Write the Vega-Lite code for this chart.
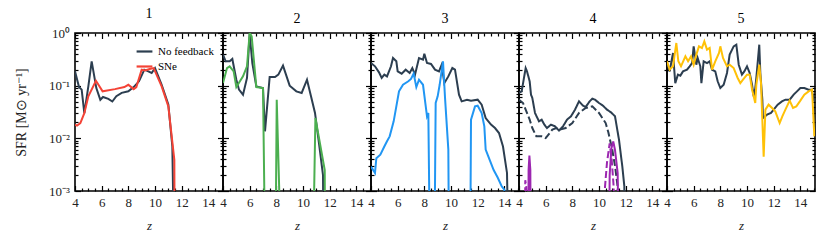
{
"$schema": "https://vega.github.io/schema/vega-lite/v6.json",
"background": "white",
"padding": {"left": 13, "right": 5, "top": 6, "bottom": 5},
"data": {"values": [
{"panel":1,"run":"No feedback","style":"solid","z":4.0,"sfr":0.187},
{"panel":1,"run":"No feedback","style":"solid","z":4.3,"sfr":0.094},
{"panel":1,"run":"No feedback","style":"solid","z":4.5,"sfr":0.084},
{"panel":1,"run":"No feedback","style":"solid","z":4.7,"sfr":0.030},
{"panel":1,"run":"No feedback","style":"solid","z":5.0,"sfr":0.097},
{"panel":1,"run":"No feedback","style":"solid","z":5.25,"sfr":0.29},
{"panel":1,"run":"No feedback","style":"solid","z":5.6,"sfr":0.09},
{"panel":1,"run":"No feedback","style":"solid","z":5.9,"sfr":0.054},
{"panel":1,"run":"No feedback","style":"solid","z":6.1,"sfr":0.061},
{"panel":1,"run":"No feedback","style":"solid","z":6.5,"sfr":0.056},
{"panel":1,"run":"No feedback","style":"solid","z":6.8,"sfr":0.050},
{"panel":1,"run":"No feedback","style":"solid","z":7.1,"sfr":0.063},
{"panel":1,"run":"No feedback","style":"solid","z":7.5,"sfr":0.073},
{"panel":1,"run":"No feedback","style":"solid","z":8.0,"sfr":0.078},
{"panel":1,"run":"No feedback","style":"solid","z":8.4,"sfr":0.094},
{"panel":1,"run":"No feedback","style":"solid","z":8.8,"sfr":0.121},
{"panel":1,"run":"No feedback","style":"solid","z":9.2,"sfr":0.201},
{"panel":1,"run":"No feedback","style":"solid","z":9.5,"sfr":0.187},
{"panel":1,"run":"No feedback","style":"solid","z":9.75,"sfr":0.174},
{"panel":1,"run":"No feedback","style":"solid","z":10.0,"sfr":0.216},
{"panel":1,"run":"No feedback","style":"solid","z":10.5,"sfr":0.104},
{"panel":1,"run":"No feedback","style":"solid","z":11.0,"sfr":0.044},
{"panel":1,"run":"No feedback","style":"solid","z":11.3,"sfr":0.007},
{"panel":1,"run":"No feedback","style":"solid","z":11.55,"sfr":0.000001},
{"panel":1,"run":"SNe","style":"solid","z":4.0,"sfr":0.0182},
{"panel":1,"run":"SNe","style":"solid","z":4.15,"sfr":0.0174},
{"panel":1,"run":"SNe","style":"solid","z":4.4,"sfr":0.0195},
{"panel":1,"run":"SNe","style":"solid","z":4.7,"sfr":0.030},
{"panel":1,"run":"SNe","style":"solid","z":5.0,"sfr":0.0627},
{"panel":1,"run":"SNe","style":"solid","z":5.57,"sfr":0.124},
{"panel":1,"run":"SNe","style":"solid","z":6.07,"sfr":0.078},
{"panel":1,"run":"SNe","style":"solid","z":7.0,"sfr":0.086},
{"panel":1,"run":"SNe","style":"solid","z":7.7,"sfr":0.094},
{"panel":1,"run":"SNe","style":"solid","z":8.0,"sfr":0.104},
{"panel":1,"run":"SNe","style":"solid","z":8.4,"sfr":0.086},
{"panel":1,"run":"SNe","style":"solid","z":8.6,"sfr":0.094},
{"panel":1,"run":"SNe","style":"solid","z":9.0,"sfr":0.201},
{"panel":1,"run":"SNe","style":"solid","z":9.25,"sfr":0.195},
{"panel":1,"run":"SNe","style":"solid","z":9.6,"sfr":0.207},
{"panel":1,"run":"SNe","style":"solid","z":9.9,"sfr":0.216},
{"panel":1,"run":"SNe","style":"solid","z":10.5,"sfr":0.097},
{"panel":1,"run":"SNe","style":"solid","z":11.0,"sfr":0.0405},
{"panel":1,"run":"SNe","style":"solid","z":11.45,"sfr":0.0039},
{"panel":1,"run":"SNe","style":"solid","z":11.5,"sfr":0.000001},

{"panel":2,"run":"No feedback","style":"solid","z":4.0,"sfr":0.388},
{"panel":2,"run":"No feedback","style":"solid","z":4.2,"sfr":0.29},
{"panel":2,"run":"No feedback","style":"solid","z":4.5,"sfr":0.29},
{"panel":2,"run":"No feedback","style":"solid","z":4.7,"sfr":0.321},
{"panel":2,"run":"No feedback","style":"solid","z":5.0,"sfr":0.13},
{"panel":2,"run":"No feedback","style":"solid","z":5.2,"sfr":0.084},
{"panel":2,"run":"No feedback","style":"solid","z":5.5,"sfr":0.0675},
{"panel":2,"run":"No feedback","style":"solid","z":5.8,"sfr":0.14},
{"panel":2,"run":"No feedback","style":"solid","z":6.0,"sfr":0.97},
{"panel":2,"run":"No feedback","style":"solid","z":6.2,"sfr":0.269},
{"panel":2,"run":"No feedback","style":"solid","z":6.5,"sfr":0.097},
{"panel":2,"run":"No feedback","style":"solid","z":7.0,"sfr":0.09},
{"panel":2,"run":"No feedback","style":"solid","z":7.15,"sfr":0.0136},
{"panel":2,"run":"No feedback","style":"solid","z":7.5,"sfr":0.146},
{"panel":2,"run":"No feedback","style":"solid","z":7.9,"sfr":0.146},
{"panel":2,"run":"No feedback","style":"solid","z":8.15,"sfr":0.162},
{"panel":2,"run":"No feedback","style":"solid","z":8.5,"sfr":0.24},
{"panel":2,"run":"No feedback","style":"solid","z":9.0,"sfr":0.1},
{"panel":2,"run":"No feedback","style":"solid","z":9.5,"sfr":0.078},
{"panel":2,"run":"No feedback","style":"solid","z":9.9,"sfr":0.0726},
{"panel":2,"run":"No feedback","style":"solid","z":10.3,"sfr":0.13},
{"panel":2,"run":"No feedback","style":"solid","z":10.6,"sfr":0.0627},
{"panel":2,"run":"No feedback","style":"solid","z":10.9,"sfr":0.0303},
{"panel":2,"run":"No feedback","style":"solid","z":11.2,"sfr":0.008},
{"panel":2,"run":"No feedback","style":"solid","z":11.5,"sfr":0.002},
{"panel":2,"run":"No feedback","style":"solid","z":11.6,"sfr":0.000001},
{"panel":2,"run":"SNe","style":"solid","z":4.0,"sfr":0.112},
{"panel":2,"run":"SNe","style":"solid","z":4.3,"sfr":0.216},
{"panel":2,"run":"SNe","style":"solid","z":4.5,"sfr":0.233},
{"panel":2,"run":"SNe","style":"solid","z":4.8,"sfr":0.187},
{"panel":2,"run":"SNe","style":"solid","z":5.0,"sfr":0.094},
{"panel":2,"run":"SNe","style":"solid","z":5.5,"sfr":0.15},
{"panel":2,"run":"SNe","style":"solid","z":5.8,"sfr":0.233},
{"panel":2,"run":"SNe","style":"solid","z":6.0,"sfr":1.0},
{"panel":2,"run":"SNe","style":"solid","z":6.15,"sfr":0.865},
{"panel":2,"run":"SNe","style":"solid","z":6.5,"sfr":0.094},
{"panel":2,"run":"SNe","style":"solid","z":7.0,"sfr":0.09},
{"panel":2,"run":"SNe","style":"solid","z":7.25,"sfr":0.000001},
{"panel":2,"run":"SNe","style":"solid","z":7.88,"sfr":0.000001},
{"panel":2,"run":"SNe","style":"solid","z":8.03,"sfr":0.0542},
{"panel":2,"run":"SNe","style":"solid","z":8.55,"sfr":0.000001},
{"panel":2,"run":"SNe","style":"solid","z":10.63,"sfr":0.000001},
{"panel":2,"run":"SNe","style":"solid","z":10.93,"sfr":0.0243},
{"panel":2,"run":"SNe","style":"solid","z":11.63,"sfr":0.0025},
{"panel":2,"run":"SNe","style":"solid","z":11.68,"sfr":0.000001},

{"panel":3,"run":"No feedback","style":"solid","z":4.0,"sfr":0.269},
{"panel":3,"run":"No feedback","style":"solid","z":4.3,"sfr":0.233},
{"panel":3,"run":"No feedback","style":"solid","z":4.6,"sfr":0.179},
{"panel":3,"run":"No feedback","style":"solid","z":4.8,"sfr":0.14},
{"panel":3,"run":"No feedback","style":"solid","z":5.0,"sfr":0.162},
{"panel":3,"run":"No feedback","style":"solid","z":5.2,"sfr":0.15},
{"panel":3,"run":"No feedback","style":"solid","z":5.5,"sfr":0.233},
{"panel":3,"run":"No feedback","style":"solid","z":5.65,"sfr":0.335},
{"panel":3,"run":"No feedback","style":"solid","z":5.9,"sfr":0.29},
{"panel":3,"run":"No feedback","style":"solid","z":6.0,"sfr":0.187},
{"panel":3,"run":"No feedback","style":"solid","z":6.3,"sfr":0.169},
{"panel":3,"run":"No feedback","style":"solid","z":6.6,"sfr":0.201},
{"panel":3,"run":"No feedback","style":"solid","z":6.9,"sfr":0.174},
{"panel":3,"run":"No feedback","style":"solid","z":7.1,"sfr":0.216},
{"panel":3,"run":"No feedback","style":"solid","z":7.3,"sfr":0.162},
{"panel":3,"run":"No feedback","style":"solid","z":7.6,"sfr":0.335},
{"panel":3,"run":"No feedback","style":"solid","z":7.9,"sfr":0.312},
{"panel":3,"run":"No feedback","style":"solid","z":8.0,"sfr":0.405},
{"panel":3,"run":"No feedback","style":"solid","z":8.2,"sfr":0.269},
{"panel":3,"run":"No feedback","style":"solid","z":8.5,"sfr":0.258},
{"panel":3,"run":"No feedback","style":"solid","z":8.8,"sfr":0.201},
{"panel":3,"run":"No feedback","style":"solid","z":9.1,"sfr":0.187},
{"panel":3,"run":"No feedback","style":"solid","z":9.3,"sfr":0.25},
{"panel":3,"run":"No feedback","style":"solid","z":9.5,"sfr":0.112},
{"panel":3,"run":"No feedback","style":"solid","z":9.8,"sfr":0.15},
{"panel":3,"run":"No feedback","style":"solid","z":10.1,"sfr":0.216},
{"panel":3,"run":"No feedback","style":"solid","z":10.3,"sfr":0.201},
{"panel":3,"run":"No feedback","style":"solid","z":10.6,"sfr":0.0675},
{"panel":3,"run":"No feedback","style":"solid","z":10.8,"sfr":0.0504},
{"panel":3,"run":"No feedback","style":"solid","z":11.2,"sfr":0.0542},
{"panel":3,"run":"No feedback","style":"solid","z":11.5,"sfr":0.0519},
{"panel":3,"run":"No feedback","style":"solid","z":12.0,"sfr":0.0542},
{"panel":3,"run":"No feedback","style":"solid","z":12.3,"sfr":0.0436},
{"panel":3,"run":"No feedback","style":"solid","z":12.6,"sfr":0.0243},
{"panel":3,"run":"No feedback","style":"solid","z":13.0,"sfr":0.0182},
{"panel":3,"run":"No feedback","style":"solid","z":13.3,"sfr":0.0157},
{"panel":3,"run":"No feedback","style":"solid","z":13.6,"sfr":0.0126},
{"panel":3,"run":"No feedback","style":"solid","z":13.9,"sfr":0.007},
{"panel":3,"run":"No feedback","style":"solid","z":14.2,"sfr":0.0022},
{"panel":3,"run":"No feedback","style":"solid","z":14.45,"sfr":0.000001},
{"panel":3,"run":"SNe","style":"solid","z":4.0,"sfr":0.0029},
{"panel":3,"run":"SNe","style":"solid","z":4.3,"sfr":0.0022},
{"panel":3,"run":"SNe","style":"solid","z":4.4,"sfr":0.0042},
{"panel":3,"run":"SNe","style":"solid","z":4.7,"sfr":0.0049},
{"panel":3,"run":"SNe","style":"solid","z":5.0,"sfr":0.007},
{"panel":3,"run":"SNe","style":"solid","z":5.2,"sfr":0.0088},
{"panel":3,"run":"SNe","style":"solid","z":5.4,"sfr":0.0109},
{"panel":3,"run":"SNe","style":"solid","z":5.7,"sfr":0.021},
{"panel":3,"run":"SNe","style":"solid","z":5.9,"sfr":0.0405},
{"panel":3,"run":"SNe","style":"solid","z":6.1,"sfr":0.078},
{"panel":3,"run":"SNe","style":"solid","z":6.4,"sfr":0.104},
{"panel":3,"run":"SNe","style":"solid","z":6.8,"sfr":0.121},
{"panel":3,"run":"SNe","style":"solid","z":7.0,"sfr":0.134},
{"panel":3,"run":"SNe","style":"solid","z":7.2,"sfr":0.169},
{"panel":3,"run":"SNe","style":"solid","z":7.4,"sfr":0.094},
{"panel":3,"run":"SNe","style":"solid","z":7.6,"sfr":0.13},
{"panel":3,"run":"SNe","style":"solid","z":7.9,"sfr":0.104},
{"panel":3,"run":"SNe","style":"solid","z":8.2,"sfr":0.0262},
{"panel":3,"run":"SNe","style":"solid","z":8.3,"sfr":0.0303},
{"panel":3,"run":"SNe","style":"solid","z":8.5,"sfr":0.000001},
{"panel":3,"run":"SNe","style":"solid","z":8.7,"sfr":0.000001},
{"panel":3,"run":"SNe","style":"solid","z":8.85,"sfr":0.0469},
{"panel":3,"run":"SNe","style":"solid","z":9.0,"sfr":0.0627},
{"panel":3,"run":"SNe","style":"solid","z":9.15,"sfr":0.104},
{"panel":3,"run":"SNe","style":"solid","z":9.4,"sfr":0.29},
{"panel":3,"run":"SNe","style":"solid","z":9.55,"sfr":0.06},
{"panel":3,"run":"SNe","style":"solid","z":9.8,"sfr":0.0061},
{"panel":3,"run":"SNe","style":"solid","z":9.9,"sfr":0.000001},
{"panel":3,"run":"SNe","style":"solid","z":11.4,"sfr":0.000001},
{"panel":3,"run":"SNe","style":"solid","z":11.5,"sfr":0.0226},
{"panel":3,"run":"SNe","style":"solid","z":11.8,"sfr":0.0405},
{"panel":3,"run":"SNe","style":"solid","z":12.0,"sfr":0.0417},
{"panel":3,"run":"SNe","style":"solid","z":12.3,"sfr":0.0303},
{"panel":3,"run":"SNe","style":"solid","z":12.5,"sfr":0.0169},
{"panel":3,"run":"SNe","style":"solid","z":12.6,"sfr":0.0061},
{"panel":3,"run":"SNe","style":"solid","z":12.9,"sfr":0.0039},
{"panel":3,"run":"SNe","style":"solid","z":13.2,"sfr":0.0025},
{"panel":3,"run":"SNe","style":"solid","z":13.5,"sfr":0.0018},
{"panel":3,"run":"SNe","style":"solid","z":13.8,"sfr":0.00123},
{"panel":3,"run":"SNe","style":"solid","z":14.0,"sfr":0.00106},
{"panel":3,"run":"SNe","style":"solid","z":14.3,"sfr":0.000001},

{"panel":4,"run":"No feedback","style":"solid","z":4.0,"sfr":0.0726},
{"panel":4,"run":"No feedback","style":"solid","z":4.2,"sfr":0.078},
{"panel":4,"run":"No feedback","style":"solid","z":4.5,"sfr":0.216},
{"panel":4,"run":"No feedback","style":"solid","z":4.6,"sfr":0.187},
{"panel":4,"run":"No feedback","style":"solid","z":4.8,"sfr":0.121},
{"panel":4,"run":"No feedback","style":"solid","z":4.9,"sfr":0.0675},
{"panel":4,"run":"No feedback","style":"solid","z":5.0,"sfr":0.0583},
{"panel":4,"run":"No feedback","style":"solid","z":5.2,"sfr":0.0303},
{"panel":4,"run":"No feedback","style":"solid","z":5.5,"sfr":0.021},
{"panel":4,"run":"No feedback","style":"solid","z":5.7,"sfr":0.0226},
{"panel":4,"run":"No feedback","style":"solid","z":5.9,"sfr":0.0182},
{"panel":4,"run":"No feedback","style":"solid","z":6.1,"sfr":0.0157},
{"panel":4,"run":"No feedback","style":"solid","z":6.4,"sfr":0.0182},
{"panel":4,"run":"No feedback","style":"solid","z":6.7,"sfr":0.0169},
{"panel":4,"run":"No feedback","style":"solid","z":7.0,"sfr":0.014},
{"panel":4,"run":"No feedback","style":"solid","z":7.3,"sfr":0.0169},
{"panel":4,"run":"No feedback","style":"solid","z":7.6,"sfr":0.0226},
{"panel":4,"run":"No feedback","style":"solid","z":7.9,"sfr":0.0262},
{"panel":4,"run":"No feedback","style":"solid","z":8.2,"sfr":0.035},
{"panel":4,"run":"No feedback","style":"solid","z":8.5,"sfr":0.0504},
{"panel":4,"run":"No feedback","style":"solid","z":8.8,"sfr":0.0417},
{"panel":4,"run":"No feedback","style":"solid","z":9.0,"sfr":0.0394},
{"panel":4,"run":"No feedback","style":"solid","z":9.3,"sfr":0.0504},
{"panel":4,"run":"No feedback","style":"solid","z":9.5,"sfr":0.0566},
{"panel":4,"run":"No feedback","style":"solid","z":9.7,"sfr":0.0542},
{"panel":4,"run":"No feedback","style":"solid","z":10.0,"sfr":0.0469},
{"panel":4,"run":"No feedback","style":"solid","z":10.3,"sfr":0.0417},
{"panel":4,"run":"No feedback","style":"solid","z":10.6,"sfr":0.035},
{"panel":4,"run":"No feedback","style":"solid","z":10.9,"sfr":0.0312},
{"panel":4,"run":"No feedback","style":"solid","z":11.2,"sfr":0.0262},
{"panel":4,"run":"No feedback","style":"solid","z":11.5,"sfr":0.0094},
{"panel":4,"run":"No feedback","style":"solid","z":11.75,"sfr":0.0029},
{"panel":4,"run":"No feedback","style":"solid","z":11.9,"sfr":0.00123},
{"panel":4,"run":"No feedback","style":"solid","z":12.0,"sfr":0.000001},
{"panel":4,"run":"No feedback","style":"dashed","z":4.0,"sfr":0.0542},
{"panel":4,"run":"No feedback","style":"dashed","z":4.3,"sfr":0.0469},
{"panel":4,"run":"No feedback","style":"dashed","z":4.5,"sfr":0.035},
{"panel":4,"run":"No feedback","style":"dashed","z":4.8,"sfr":0.0226},
{"panel":4,"run":"No feedback","style":"dashed","z":5.0,"sfr":0.0157},
{"panel":4,"run":"No feedback","style":"dashed","z":5.3,"sfr":0.0109},
{"panel":4,"run":"No feedback","style":"dashed","z":5.7,"sfr":0.0109},
{"panel":4,"run":"No feedback","style":"dashed","z":6.0,"sfr":0.0101},
{"panel":4,"run":"No feedback","style":"dashed","z":6.5,"sfr":0.0146},
{"panel":4,"run":"No feedback","style":"dashed","z":6.8,"sfr":0.0157},
{"panel":4,"run":"No feedback","style":"dashed","z":7.0,"sfr":0.0146},
{"panel":4,"run":"No feedback","style":"dashed","z":7.5,"sfr":0.0157},
{"panel":4,"run":"No feedback","style":"dashed","z":8.0,"sfr":0.0195},
{"panel":4,"run":"No feedback","style":"dashed","z":8.5,"sfr":0.0303},
{"panel":4,"run":"No feedback","style":"dashed","z":9.0,"sfr":0.0377},
{"panel":4,"run":"No feedback","style":"dashed","z":9.5,"sfr":0.0405},
{"panel":4,"run":"No feedback","style":"dashed","z":10.0,"sfr":0.0303},
{"panel":4,"run":"No feedback","style":"dashed","z":10.5,"sfr":0.0195},
{"panel":4,"run":"No feedback","style":"dashed","z":10.7,"sfr":0.013},
{"panel":4,"run":"No feedback","style":"dashed","z":11.0,"sfr":0.006},
{"panel":4,"run":"No feedback","style":"dashed","z":11.2,"sfr":0.003},
{"panel":4,"run":"No feedback","style":"dashed","z":11.4,"sfr":0.0012},
{"panel":4,"run":"No feedback","style":"dashed","z":11.5,"sfr":0.000001},
{"panel":4,"run":"SNe","style":"solid","z":4.0,"sfr":0.000001},
{"panel":4,"run":"SNe","style":"solid","z":4.65,"sfr":0.000001},
{"panel":4,"run":"SNe","style":"solid","z":4.72,"sfr":0.0025},
{"panel":4,"run":"SNe","style":"solid","z":4.78,"sfr":0.0047},
{"panel":4,"run":"SNe","style":"solid","z":4.85,"sfr":0.0025},
{"panel":4,"run":"SNe","style":"solid","z":4.9,"sfr":0.000001},
{"panel":4,"run":"SNe","style":"solid","z":10.7,"sfr":0.000001},
{"panel":4,"run":"SNe","style":"solid","z":10.8,"sfr":0.002},
{"panel":4,"run":"SNe","style":"solid","z":10.93,"sfr":0.0065},
{"panel":4,"run":"SNe","style":"solid","z":11.07,"sfr":0.0087},
{"panel":4,"run":"SNe","style":"solid","z":11.2,"sfr":0.006},
{"panel":4,"run":"SNe","style":"solid","z":11.4,"sfr":0.0022},
{"panel":4,"run":"SNe","style":"solid","z":11.58,"sfr":0.000001},
{"panel":4,"run":"SNe","style":"dashed","z":4.0,"sfr":0.000001},
{"panel":4,"run":"SNe","style":"dashed","z":4.4,"sfr":0.000001},
{"panel":4,"run":"SNe","style":"dashed","z":4.47,"sfr":0.0016},
{"panel":4,"run":"SNe","style":"dashed","z":4.55,"sfr":0.0012},
{"panel":4,"run":"SNe","style":"dashed","z":4.6,"sfr":0.000001},
{"panel":4,"run":"SNe","style":"dashed","z":10.3,"sfr":0.000001},
{"panel":4,"run":"SNe","style":"dashed","z":10.45,"sfr":0.0012},
{"panel":4,"run":"SNe","style":"dashed","z":10.6,"sfr":0.0035},
{"panel":4,"run":"SNe","style":"dashed","z":10.8,"sfr":0.008},
{"panel":4,"run":"SNe","style":"dashed","z":10.95,"sfr":0.004},
{"panel":4,"run":"SNe","style":"dashed","z":11.1,"sfr":0.0012},
{"panel":4,"run":"SNe","style":"dashed","z":11.2,"sfr":0.000001},

{"panel":5,"run":"No feedback","style":"solid","z":4.0,"sfr":0.269},
{"panel":5,"run":"No feedback","style":"solid","z":4.2,"sfr":0.187},
{"panel":5,"run":"No feedback","style":"solid","z":4.45,"sfr":0.417},
{"panel":5,"run":"No feedback","style":"solid","z":4.62,"sfr":0.112},
{"panel":5,"run":"No feedback","style":"solid","z":4.82,"sfr":0.162},
{"panel":5,"run":"No feedback","style":"solid","z":5.0,"sfr":0.155},
{"panel":5,"run":"No feedback","style":"solid","z":5.2,"sfr":0.187},
{"panel":5,"run":"No feedback","style":"solid","z":5.5,"sfr":0.201},
{"panel":5,"run":"No feedback","style":"solid","z":5.7,"sfr":0.233},
{"panel":5,"run":"No feedback","style":"solid","z":5.88,"sfr":0.269},
{"panel":5,"run":"No feedback","style":"solid","z":6.0,"sfr":0.558},
{"panel":5,"run":"No feedback","style":"solid","z":6.2,"sfr":0.25},
{"panel":5,"run":"No feedback","style":"solid","z":6.3,"sfr":0.335},
{"panel":5,"run":"No feedback","style":"solid","z":6.5,"sfr":0.233},
{"panel":5,"run":"No feedback","style":"solid","z":6.58,"sfr":0.112},
{"panel":5,"run":"No feedback","style":"solid","z":6.75,"sfr":0.29},
{"panel":5,"run":"No feedback","style":"solid","z":7.0,"sfr":0.269},
{"panel":5,"run":"No feedback","style":"solid","z":7.2,"sfr":0.29},
{"panel":5,"run":"No feedback","style":"solid","z":7.38,"sfr":0.201},
{"panel":5,"run":"No feedback","style":"solid","z":7.62,"sfr":0.187},
{"panel":5,"run":"No feedback","style":"solid","z":7.8,"sfr":0.121},
{"panel":5,"run":"No feedback","style":"solid","z":8.0,"sfr":0.09},
{"panel":5,"run":"No feedback","style":"solid","z":8.25,"sfr":0.104},
{"panel":5,"run":"No feedback","style":"solid","z":8.5,"sfr":0.174},
{"panel":5,"run":"No feedback","style":"solid","z":8.7,"sfr":0.388},
{"panel":5,"run":"No feedback","style":"solid","z":9.0,"sfr":0.558},
{"panel":5,"run":"No feedback","style":"solid","z":9.2,"sfr":0.6},
{"panel":5,"run":"No feedback","style":"solid","z":9.38,"sfr":0.25},
{"panel":5,"run":"No feedback","style":"solid","z":9.62,"sfr":0.162},
{"panel":5,"run":"No feedback","style":"solid","z":9.8,"sfr":0.187},
{"panel":5,"run":"No feedback","style":"solid","z":10.0,"sfr":0.233},
{"panel":5,"run":"No feedback","style":"solid","z":10.2,"sfr":0.174},
{"panel":5,"run":"No feedback","style":"solid","z":10.38,"sfr":0.104},
{"panel":5,"run":"No feedback","style":"solid","z":10.5,"sfr":0.0627},
{"panel":5,"run":"No feedback","style":"solid","z":10.62,"sfr":0.09},
{"panel":5,"run":"No feedback","style":"solid","z":10.7,"sfr":0.14},
{"panel":5,"run":"No feedback","style":"solid","z":10.92,"sfr":0.6},
{"panel":5,"run":"No feedback","style":"solid","z":11.0,"sfr":0.174},
{"panel":5,"run":"No feedback","style":"solid","z":11.15,"sfr":0.0542},
{"panel":5,"run":"No feedback","style":"solid","z":11.2,"sfr":0.0243},
{"panel":5,"run":"No feedback","style":"solid","z":11.5,"sfr":0.0281},
{"panel":5,"run":"No feedback","style":"solid","z":11.8,"sfr":0.0303},
{"panel":5,"run":"No feedback","style":"solid","z":12.0,"sfr":0.035},
{"panel":5,"run":"No feedback","style":"solid","z":12.3,"sfr":0.0436},
{"panel":5,"run":"No feedback","style":"solid","z":12.62,"sfr":0.0504},
{"panel":5,"run":"No feedback","style":"solid","z":12.88,"sfr":0.0542},
{"panel":5,"run":"No feedback","style":"solid","z":13.2,"sfr":0.0542},
{"panel":5,"run":"No feedback","style":"solid","z":13.5,"sfr":0.0675},
{"panel":5,"run":"No feedback","style":"solid","z":13.75,"sfr":0.078},
{"panel":5,"run":"No feedback","style":"solid","z":14.0,"sfr":0.09},
{"panel":5,"run":"No feedback","style":"solid","z":14.3,"sfr":0.09},
{"panel":5,"run":"No feedback","style":"solid","z":14.62,"sfr":0.084},
{"panel":5,"run":"No feedback","style":"solid","z":14.85,"sfr":0.084},
{"panel":5,"run":"No feedback","style":"solid","z":15.05,"sfr":0.05},
{"panel":5,"run":"SNe","style":"solid","z":4.0,"sfr":0.29},
{"panel":5,"run":"SNe","style":"solid","z":4.2,"sfr":0.201},
{"panel":5,"run":"SNe","style":"solid","z":4.45,"sfr":0.233},
{"panel":5,"run":"SNe","style":"solid","z":4.7,"sfr":0.646},
{"panel":5,"run":"SNe","style":"solid","z":4.85,"sfr":0.29},
{"panel":5,"run":"SNe","style":"solid","z":5.05,"sfr":0.233},
{"panel":5,"run":"SNe","style":"solid","z":5.38,"sfr":0.36},
{"panel":5,"run":"SNe","style":"solid","z":5.58,"sfr":0.29},
{"panel":5,"run":"SNe","style":"solid","z":5.8,"sfr":0.36},
{"panel":5,"run":"SNe","style":"solid","z":6.0,"sfr":0.25},
{"panel":5,"run":"SNe","style":"solid","z":6.2,"sfr":0.388},
{"panel":5,"run":"SNe","style":"solid","z":6.4,"sfr":0.558},
{"panel":5,"run":"SNe","style":"solid","z":6.62,"sfr":0.519},
{"panel":5,"run":"SNe","style":"solid","z":6.8,"sfr":0.695},
{"panel":5,"run":"SNe","style":"solid","z":7.0,"sfr":0.483},
{"panel":5,"run":"SNe","style":"solid","z":7.2,"sfr":0.519},
{"panel":5,"run":"SNe","style":"solid","z":7.38,"sfr":0.201},
{"panel":5,"run":"SNe","style":"solid","z":7.62,"sfr":0.29},
{"panel":5,"run":"SNe","style":"solid","z":7.9,"sfr":0.417},
{"panel":5,"run":"SNe","style":"solid","z":8.0,"sfr":0.558},
{"panel":5,"run":"SNe","style":"solid","z":8.2,"sfr":0.335},
{"panel":5,"run":"SNe","style":"solid","z":8.5,"sfr":0.233},
{"panel":5,"run":"SNe","style":"solid","z":8.7,"sfr":0.25},
{"panel":5,"run":"SNe","style":"solid","z":9.0,"sfr":0.216},
{"panel":5,"run":"SNe","style":"solid","z":9.3,"sfr":0.14},
{"panel":5,"run":"SNe","style":"solid","z":9.5,"sfr":0.112},
{"panel":5,"run":"SNe","style":"solid","z":9.7,"sfr":0.13},
{"panel":5,"run":"SNe","style":"solid","z":10.0,"sfr":0.162},
{"panel":5,"run":"SNe","style":"solid","z":10.2,"sfr":0.162},
{"panel":5,"run":"SNe","style":"solid","z":10.38,"sfr":0.084},
{"panel":5,"run":"SNe","style":"solid","z":10.62,"sfr":0.0469},
{"panel":5,"run":"SNe","style":"solid","z":10.7,"sfr":0.104},
{"panel":5,"run":"SNe","style":"solid","z":10.92,"sfr":0.25},
{"panel":5,"run":"SNe","style":"solid","z":11.05,"sfr":0.112},
{"panel":5,"run":"SNe","style":"solid","z":11.25,"sfr":0.0045},
{"panel":5,"run":"SNe","style":"solid","z":11.38,"sfr":0.035},
{"panel":5,"run":"SNe","style":"solid","z":11.62,"sfr":0.0436},
{"panel":5,"run":"SNe","style":"solid","z":11.88,"sfr":0.0377},
{"panel":5,"run":"SNe","style":"solid","z":12.12,"sfr":0.0326},
{"panel":5,"run":"SNe","style":"solid","z":12.45,"sfr":0.0195},
{"panel":5,"run":"SNe","style":"solid","z":12.65,"sfr":0.0262},
{"panel":5,"run":"SNe","style":"solid","z":12.88,"sfr":0.035},
{"panel":5,"run":"SNe","style":"solid","z":13.2,"sfr":0.0519},
{"panel":5,"run":"SNe","style":"solid","z":13.45,"sfr":0.0377},
{"panel":5,"run":"SNe","style":"solid","z":13.7,"sfr":0.0405},
{"panel":5,"run":"SNe","style":"solid","z":14.0,"sfr":0.0519},
{"panel":5,"run":"SNe","style":"solid","z":14.3,"sfr":0.0675},
{"panel":5,"run":"SNe","style":"solid","z":14.62,"sfr":0.078},
{"panel":5,"run":"SNe","style":"solid","z":14.88,"sfr":0.084},
{"panel":5,"run":"SNe","style":"solid","z":15.05,"sfr":0.0109}
]},
"spacing": 0,
"bounds": "flush",
"resolve": {"scale": {"color": "independent"}, "legend": {"color": "independent"}},
"hconcat": [
{"width":148,"height":158,"title":"1",
 "transform":[{"filter":"datum.panel == 1"}],
 "layer":[
  {"mark":{"type":"line","strokeWidth":2,"clip":true},
   "encoding":{
    "x":{"field":"z","type":"quantitative","scale":{"domain":[4,15.1],"nice":false,"zero":false},
     "axis":{"orient":"bottom","values":[4,4.5,5,5.5,6,6.5,7,7.5,8,8.5,9,9.5,10,10.5,11,11.5,12,12.5,13,13.5,14,14.5,15],"labelExpr":"datum.value % 2 == 0 ? datum.value : ''","tickSize":{"condition":{"test":"datum.value % 2 == 0","value":-5.5},"value":-3},"labelPadding":11,"labelFlush":false,"labelOverlap":false,"title":"z","titleFontStyle":"italic","titlePadding":7}},
    "y":{"field":"sfr","type":"quantitative","scale":{"type":"log","domain":[0.001,1],"nice":false},
     "axis":{"orient":"left","values":[0.001,0.002,0.003,0.004,0.005,0.006,0.007,0.008,0.009,0.01,0.02,0.03,0.04,0.05,0.06,0.07,0.08,0.09,0.1,0.2,0.3,0.4,0.5,0.6,0.7,0.8,0.9,1],"labelExpr":"datum.value == 1 ? '10⁰' : datum.value == 0.1 ? '10⁻¹' : datum.value == 0.01 ? '10⁻²' : datum.value == 0.001 ? '10⁻³' : ''","tickSize":{"condition":{"test":"datum.value == 1 || datum.value == 0.1 || datum.value == 0.01 || datum.value == 0.001","value":-5.5},"value":-3},"labelPadding":11,"labelOverlap":false,"labelFlush":false,"labelFontSize":13,"title":"SFR [M⊙ yr⁻¹]","titleFontSize":14,"titlePadding":20}},
    "color":{"field":"run","type":"nominal","scale":{"domain":["No feedback","SNe"],"range":["#2c3e50","#f44336"]},
     "legend":{"orient":"top-right","title":null,"symbolType":"stroke","symbolStrokeWidth":2.2,"symbolSize":250,"labelFontSize":11,"labelFont":"Liberation Serif","offset":9,"rowPadding":0,"labelColor":"black"}}
   }},
  {"mark":{"type":"line","opacity":0,"clip":true},
   "encoding":{
    "x":{"field":"z","type":"quantitative","scale":{"domain":[4,15.1],"nice":false,"zero":false},
     "axis":{"orient":"top","values":[4,4.5,5,5.5,6,6.5,7,7.5,8,8.5,9,9.5,10,10.5,11,11.5,12,12.5,13,13.5,14,14.5,15],"labels":false,"title":null,"tickSize":{"condition":{"test":"datum.value % 2 == 0","value":-5.5},"value":-3}}},
    "y":{"field":"sfr","type":"quantitative","scale":{"type":"log","domain":[0.001,1],"nice":false},
     "axis":{"orient":"right","values":[0.001,0.002,0.003,0.004,0.005,0.006,0.007,0.008,0.009,0.01,0.02,0.03,0.04,0.05,0.06,0.07,0.08,0.09,0.1,0.2,0.3,0.4,0.5,0.6,0.7,0.8,0.9,1],"labels":false,"title":null,"tickSize":{"condition":{"test":"datum.value == 1 || datum.value == 0.1 || datum.value == 0.01 || datum.value == 0.001","value":-5.5},"value":-3}}}
   }}
 ],
 "resolve":{"axis":{"x":"independent","y":"independent"}}
},
{"width":148,"height":158,"title":"2",
 "transform":[{"filter":"datum.panel == 2"}],
 "layer":[
  {"mark":{"type":"line","strokeWidth":2,"clip":true},
   "encoding":{
    "x":{"field":"z","type":"quantitative","scale":{"domain":[4,15.1],"nice":false,"zero":false},
     "axis":{"orient":"bottom","values":[4,4.5,5,5.5,6,6.5,7,7.5,8,8.5,9,9.5,10,10.5,11,11.5,12,12.5,13,13.5,14,14.5,15],"labelExpr":"datum.value % 2 == 0 ? datum.value : ''","tickSize":{"condition":{"test":"datum.value % 2 == 0","value":-5.5},"value":-3},"labelPadding":11,"labelFlush":false,"labelOverlap":false,"title":"z","titleFontStyle":"italic","titlePadding":7}},
    "y":{"field":"sfr","type":"quantitative","scale":{"type":"log","domain":[0.001,1],"nice":false},
     "axis":{"orient":"left","values":[0.001,0.002,0.003,0.004,0.005,0.006,0.007,0.008,0.009,0.01,0.02,0.03,0.04,0.05,0.06,0.07,0.08,0.09,0.1,0.2,0.3,0.4,0.5,0.6,0.7,0.8,0.9,1],"labels":false,"title":null,"tickSize":{"condition":{"test":"datum.value == 1 || datum.value == 0.1 || datum.value == 0.01 || datum.value == 0.001","value":-5.5},"value":-3}}},
    "color":{"field":"run","type":"nominal","scale":{"domain":["No feedback","SNe"],"range":["#2c3e50","#4caf50"]},"legend":null}
   }},
  {"mark":{"type":"line","opacity":0,"clip":true},
   "encoding":{
    "x":{"field":"z","type":"quantitative","scale":{"domain":[4,15.1],"nice":false,"zero":false},
     "axis":{"orient":"top","values":[4,4.5,5,5.5,6,6.5,7,7.5,8,8.5,9,9.5,10,10.5,11,11.5,12,12.5,13,13.5,14,14.5,15],"labels":false,"title":null,"tickSize":{"condition":{"test":"datum.value % 2 == 0","value":-5.5},"value":-3}}},
    "y":{"field":"sfr","type":"quantitative","scale":{"type":"log","domain":[0.001,1],"nice":false},
     "axis":{"orient":"right","values":[0.001,0.002,0.003,0.004,0.005,0.006,0.007,0.008,0.009,0.01,0.02,0.03,0.04,0.05,0.06,0.07,0.08,0.09,0.1,0.2,0.3,0.4,0.5,0.6,0.7,0.8,0.9,1],"labels":false,"title":null,"tickSize":{"condition":{"test":"datum.value == 1 || datum.value == 0.1 || datum.value == 0.01 || datum.value == 0.001","value":-5.5},"value":-3}}}
   }}
 ],
 "resolve":{"axis":{"x":"independent","y":"independent"}}
},
{"width":148,"height":158,"title":"3",
 "transform":[{"filter":"datum.panel == 3"}],
 "layer":[
  {"mark":{"type":"line","strokeWidth":2,"clip":true},
   "encoding":{
    "x":{"field":"z","type":"quantitative","scale":{"domain":[4,15.1],"nice":false,"zero":false},
     "axis":{"orient":"bottom","values":[4,4.5,5,5.5,6,6.5,7,7.5,8,8.5,9,9.5,10,10.5,11,11.5,12,12.5,13,13.5,14,14.5,15],"labelExpr":"datum.value % 2 == 0 ? datum.value : ''","tickSize":{"condition":{"test":"datum.value % 2 == 0","value":-5.5},"value":-3},"labelPadding":11,"labelFlush":false,"labelOverlap":false,"title":"z","titleFontStyle":"italic","titlePadding":7}},
    "y":{"field":"sfr","type":"quantitative","scale":{"type":"log","domain":[0.001,1],"nice":false},
     "axis":{"orient":"left","values":[0.001,0.002,0.003,0.004,0.005,0.006,0.007,0.008,0.009,0.01,0.02,0.03,0.04,0.05,0.06,0.07,0.08,0.09,0.1,0.2,0.3,0.4,0.5,0.6,0.7,0.8,0.9,1],"labels":false,"title":null,"tickSize":{"condition":{"test":"datum.value == 1 || datum.value == 0.1 || datum.value == 0.01 || datum.value == 0.001","value":-5.5},"value":-3}}},
    "color":{"field":"run","type":"nominal","scale":{"domain":["No feedback","SNe"],"range":["#2c3e50","#2196f3"]},"legend":null}
   }},
  {"mark":{"type":"line","opacity":0,"clip":true},
   "encoding":{
    "x":{"field":"z","type":"quantitative","scale":{"domain":[4,15.1],"nice":false,"zero":false},
     "axis":{"orient":"top","values":[4,4.5,5,5.5,6,6.5,7,7.5,8,8.5,9,9.5,10,10.5,11,11.5,12,12.5,13,13.5,14,14.5,15],"labels":false,"title":null,"tickSize":{"condition":{"test":"datum.value % 2 == 0","value":-5.5},"value":-3}}},
    "y":{"field":"sfr","type":"quantitative","scale":{"type":"log","domain":[0.001,1],"nice":false},
     "axis":{"orient":"right","values":[0.001,0.002,0.003,0.004,0.005,0.006,0.007,0.008,0.009,0.01,0.02,0.03,0.04,0.05,0.06,0.07,0.08,0.09,0.1,0.2,0.3,0.4,0.5,0.6,0.7,0.8,0.9,1],"labels":false,"title":null,"tickSize":{"condition":{"test":"datum.value == 1 || datum.value == 0.1 || datum.value == 0.01 || datum.value == 0.001","value":-5.5},"value":-3}}}
   }}
 ],
 "resolve":{"axis":{"x":"independent","y":"independent"}}
},
{"width":148,"height":158,"title":"4",
 "transform":[{"filter":"datum.panel == 4"}],
 "layer":[
  {"mark":{"type":"line","strokeWidth":2,"clip":true},
   "encoding":{
    "x":{"field":"z","type":"quantitative","scale":{"domain":[4,15.1],"nice":false,"zero":false},
     "axis":{"orient":"bottom","values":[4,4.5,5,5.5,6,6.5,7,7.5,8,8.5,9,9.5,10,10.5,11,11.5,12,12.5,13,13.5,14,14.5,15],"labelExpr":"datum.value % 2 == 0 ? datum.value : ''","tickSize":{"condition":{"test":"datum.value % 2 == 0","value":-5.5},"value":-3},"labelPadding":11,"labelFlush":false,"labelOverlap":false,"title":"z","titleFontStyle":"italic","titlePadding":7}},
    "y":{"field":"sfr","type":"quantitative","scale":{"type":"log","domain":[0.001,1],"nice":false},
     "axis":{"orient":"left","values":[0.001,0.002,0.003,0.004,0.005,0.006,0.007,0.008,0.009,0.01,0.02,0.03,0.04,0.05,0.06,0.07,0.08,0.09,0.1,0.2,0.3,0.4,0.5,0.6,0.7,0.8,0.9,1],"labels":false,"title":null,"tickSize":{"condition":{"test":"datum.value == 1 || datum.value == 0.1 || datum.value == 0.01 || datum.value == 0.001","value":-5.5},"value":-3}}},
    "color":{"field":"run","type":"nominal","scale":{"domain":["No feedback","SNe"],"range":["#2c3e50","#9c27b0"]},"legend":null},
    "strokeDash":{"field":"style","type":"nominal","scale":{"domain":["solid","dashed"],"range":[[1,0],[7,3]]},"legend":null}
   }},
  {"mark":{"type":"line","opacity":0,"clip":true},
   "encoding":{
    "x":{"field":"z","type":"quantitative","scale":{"domain":[4,15.1],"nice":false,"zero":false},
     "axis":{"orient":"top","values":[4,4.5,5,5.5,6,6.5,7,7.5,8,8.5,9,9.5,10,10.5,11,11.5,12,12.5,13,13.5,14,14.5,15],"labels":false,"title":null,"tickSize":{"condition":{"test":"datum.value % 2 == 0","value":-5.5},"value":-3}}},
    "y":{"field":"sfr","type":"quantitative","scale":{"type":"log","domain":[0.001,1],"nice":false},
     "axis":{"orient":"right","values":[0.001,0.002,0.003,0.004,0.005,0.006,0.007,0.008,0.009,0.01,0.02,0.03,0.04,0.05,0.06,0.07,0.08,0.09,0.1,0.2,0.3,0.4,0.5,0.6,0.7,0.8,0.9,1],"labels":false,"title":null,"tickSize":{"condition":{"test":"datum.value == 1 || datum.value == 0.1 || datum.value == 0.01 || datum.value == 0.001","value":-5.5},"value":-3}}}
   }}
 ],
 "resolve":{"axis":{"x":"independent","y":"independent"}}
},
{"width":148,"height":158,"title":"5",
 "transform":[{"filter":"datum.panel == 5"}],
 "layer":[
  {"mark":{"type":"line","strokeWidth":2,"clip":true},
   "encoding":{
    "x":{"field":"z","type":"quantitative","scale":{"domain":[4,15.1],"nice":false,"zero":false},
     "axis":{"orient":"bottom","values":[4,4.5,5,5.5,6,6.5,7,7.5,8,8.5,9,9.5,10,10.5,11,11.5,12,12.5,13,13.5,14,14.5,15],"labelExpr":"datum.value % 2 == 0 ? datum.value : ''","tickSize":{"condition":{"test":"datum.value % 2 == 0","value":-5.5},"value":-3},"labelPadding":11,"labelFlush":false,"labelOverlap":false,"title":"z","titleFontStyle":"italic","titlePadding":7}},
    "y":{"field":"sfr","type":"quantitative","scale":{"type":"log","domain":[0.001,1],"nice":false},
     "axis":{"orient":"left","values":[0.001,0.002,0.003,0.004,0.005,0.006,0.007,0.008,0.009,0.01,0.02,0.03,0.04,0.05,0.06,0.07,0.08,0.09,0.1,0.2,0.3,0.4,0.5,0.6,0.7,0.8,0.9,1],"labels":false,"title":null,"tickSize":{"condition":{"test":"datum.value == 1 || datum.value == 0.1 || datum.value == 0.01 || datum.value == 0.001","value":-5.5},"value":-3}}},
    "color":{"field":"run","type":"nominal","scale":{"domain":["No feedback","SNe"],"range":["#2c3e50","#ffc107"]},"legend":null}
   }},
  {"mark":{"type":"line","opacity":0,"clip":true},
   "encoding":{
    "x":{"field":"z","type":"quantitative","scale":{"domain":[4,15.1],"nice":false,"zero":false},
     "axis":{"orient":"top","values":[4,4.5,5,5.5,6,6.5,7,7.5,8,8.5,9,9.5,10,10.5,11,11.5,12,12.5,13,13.5,14,14.5,15],"labels":false,"title":null,"tickSize":{"condition":{"test":"datum.value % 2 == 0","value":-5.5},"value":-3}}},
    "y":{"field":"sfr","type":"quantitative","scale":{"type":"log","domain":[0.001,1],"nice":false},
     "axis":{"orient":"right","values":[0.001,0.002,0.003,0.004,0.005,0.006,0.007,0.008,0.009,0.01,0.02,0.03,0.04,0.05,0.06,0.07,0.08,0.09,0.1,0.2,0.3,0.4,0.5,0.6,0.7,0.8,0.9,1],"labels":false,"title":null,"tickSize":{"condition":{"test":"datum.value == 1 || datum.value == 0.1 || datum.value == 0.01 || datum.value == 0.001","value":-5.5},"value":-3}}}
   }}
 ],
 "resolve":{"axis":{"x":"independent","y":"independent"}}
}
],
"config": {
 "font": "Liberation Serif",
 "view": {"stroke": "black", "strokeWidth": 1.6},
 "axis": {"domain": false, "grid": false, "tickColor": "black", "tickWidth": 1.2, "labelFont": "Liberation Serif", "labelFontSize": 13, "labelColor": "#222222", "titleFont": "Liberation Serif", "titleFontSize": 13, "titleColor": "#222222", "titleFontWeight": "normal"},
 "title": {"font": "Liberation Serif", "fontSize": 14, "fontWeight": "normal", "color": "black", "offset": 6},
 "legend": {"labelFont": "Liberation Serif"}
}
}
